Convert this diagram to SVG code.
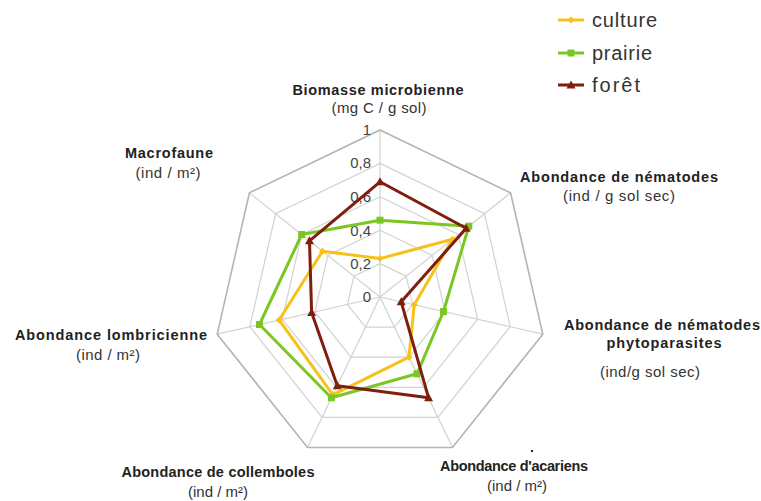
<svg xmlns="http://www.w3.org/2000/svg" width="761" height="501" viewBox="0 0 761 501">
<style>
.grid{fill:none;stroke:#d2d2d2;stroke-width:1.2}
.outer{fill:none;stroke:#b4b4b4;stroke-width:1.6}
.spoke{stroke:#d2d2d2;stroke-width:1.2}
.tick{font-family:"Liberation Sans",Arial,sans-serif;font-size:15px;fill:#444;text-anchor:end}
.lab{font-family:"Liberation Sans",Arial,sans-serif;font-size:14.5px;font-weight:bold;fill:#222;text-anchor:middle}
.unit{font-family:"Liberation Sans",Arial,sans-serif;font-size:15px;fill:#333;text-anchor:middle}
.leg{font-family:"Liberation Sans",Arial,sans-serif;font-size:20px;fill:#333}
.cul{fill:none;stroke:#F6C21A;stroke-width:3;stroke-linejoin:round}
.pra{fill:none;stroke:#7CC623;stroke-width:3;stroke-linejoin:round}
.for{fill:none;stroke:#7E1E0C;stroke-width:3;stroke-linejoin:round}
</style>
<defs>
<path id="mc" d="M0,-3.5 L3.5,0 L0,3.5 L-3.5,0 Z" fill="#F6C21A"/>
<rect id="mp" x="-3.5" y="-3.5" width="7" height="7" fill="#7CC623"/>
<path id="mf" d="M0,-4.5 L4.5,3.5 L-4.5,3.5 Z" fill="#7E1E0C"/>
</defs>
<rect width="761" height="501" fill="#fff"/>
<g id="grid">
<line class="spoke" x1="380" y1="297" x2="380" y2="130"/>
<line class="spoke" x1="380" y1="297" x2="510.6" y2="192.9"/>
<line class="spoke" x1="380" y1="297" x2="542.8" y2="334.2"/>
<line class="spoke" x1="380" y1="297" x2="452.5" y2="447.5"/>
<line class="spoke" x1="380" y1="297" x2="307.5" y2="447.5"/>
<line class="spoke" x1="380" y1="297" x2="217.2" y2="334.2"/>
<line class="spoke" x1="380" y1="297" x2="249.4" y2="192.9"/>
<polygon class="grid" points="380,263.6 406.1,276.2 412.6,304.4 394.5,327.1 365.5,327.1 347.4,304.4 353.9,276.2"/>
<polygon class="grid" points="380,230.2 432.2,255.4 445.1,311.9 409,357.2 351,357.2 314.9,311.9 327.8,255.4"/>
<polygon class="grid" points="380,196.8 458.3,234.5 477.7,319.3 423.5,387.3 336.5,387.3 282.3,319.3 301.7,234.5"/>
<polygon class="grid" points="380,163.4 484.5,213.7 510.2,326.7 438,417.4 322,417.4 249.8,326.7 275.6,213.7"/>
<polygon class="outer" points="380,130 510.6,192.9 542.8,334.2 452.5,447.5 307.5,447.5 217.2,334.2 249.4,192.9"/>
</g>
<g id="ticks">
<text class="tick" x="371" y="302">0</text>
<text class="tick" x="371" y="269">0,2</text>
<text class="tick" x="371" y="236">0,4</text>
<text class="tick" x="371" y="202">0,6</text>
<text class="tick" x="371" y="168">0,8</text>
<text class="tick" x="371" y="135">1</text>
</g>
<g id="series">
<g id="culture">
<polygon class="cul" points="380,258.6 452.5,239.2 414.2,304.8 409,357.2 332.9,394.8 279.1,320 322.5,251.2"/>
<use href="#mc" x="380" y="258.6"/><use href="#mc" x="452.5" y="239.2"/><use href="#mc" x="414.2" y="304.8"/><use href="#mc" x="409" y="357.2"/><use href="#mc" x="332.9" y="394.8"/><use href="#mc" x="279.1" y="320"/><use href="#mc" x="322.5" y="251.2"/>
</g>
<g id="prairie">
<polygon class="pra" points="380,220.2 468.8,226.2 443.5,311.5 417,373.8 331.4,397.8 259.5,324.5 301.7,234.5"/>
<use href="#mp" x="380" y="220.2"/><use href="#mp" x="468.8" y="226.2"/><use href="#mp" x="443.5" y="311.5"/><use href="#mp" x="417" y="373.8"/><use href="#mp" x="331.4" y="397.8"/><use href="#mp" x="259.5" y="324.5"/><use href="#mp" x="301.7" y="234.5"/>
</g>
<g id="foret">
<polygon class="for" points="380,181.8 466.2,228.3 401.2,301.8 428.6,397.8 337.3,385.8 311.6,312.6 309.5,240.8"/>
<use href="#mf" x="380" y="181.8"/><use href="#mf" x="466.2" y="228.3"/><use href="#mf" x="401.2" y="301.8"/><use href="#mf" x="428.6" y="397.8"/><use href="#mf" x="337.3" y="385.8"/><use href="#mf" x="311.6" y="312.6"/><use href="#mf" x="309.5" y="240.8"/>
</g>
</g>
<g id="axis-biomasse">
<text class="lab" x="378" y="95" textLength="171">Biomasse microbienne</text>
<text class="unit" x="379" y="113" textLength="95">(mg C / g sol)</text>
</g>
<g id="axis-nematodes">
<text class="lab" x="619" y="182" textLength="198">Abondance de nématodes</text>
<text class="unit" x="619" y="201" textLength="112">(ind / g sol sec)</text>
</g>
<g id="axis-phyto">
<text class="lab" x="662" y="330" textLength="196">Abondance de nématodes</text>
<text class="lab" x="664" y="348" textLength="115">phytoparasites</text>
<text class="unit" x="650" y="377" textLength="100">(ind/g sol sec)</text>
</g>
<g id="axis-acariens">
<circle cx="532" cy="451" r="1.2" fill="#333"/>
<text class="lab" x="514" y="471" textLength="148">Abondance d'acariens</text>
<text class="unit" x="517" y="491" textLength="60">(ind / m²)</text>
</g>
<g id="axis-collemboles">
<text class="lab" x="218" y="477" textLength="193">Abondance de collemboles</text>
<text class="unit" x="218" y="497" textLength="60">(ind / m²)</text>
</g>
<g id="axis-lombric">
<text class="lab" x="111" y="340" textLength="192">Abondance lombricienne</text>
<text class="unit" x="108" y="360" textLength="64">(ind / m²)</text>
</g>
<g id="axis-macrofaune">
<text class="lab" x="169" y="158" textLength="88">Macrofaune</text>
<text class="unit" x="168" y="178" textLength="65">(ind / m²)</text>
</g>
<g id="legend">
<line x1="558" y1="20" x2="584" y2="20" stroke="#F6C21A" stroke-width="3"/><use href="#mc" x="571" y="20"/>
<text class="leg" x="592" y="27" textLength="65">culture</text>
<line x1="558" y1="53" x2="584" y2="53" stroke="#7CC623" stroke-width="3"/><use href="#mp" x="571" y="53"/>
<text class="leg" x="592" y="60" textLength="60">prairie</text>
<line x1="558" y1="85" x2="584" y2="85" stroke="#7E1E0C" stroke-width="3"/><use href="#mf" x="571" y="85"/>
<text class="leg" x="592" y="92" textLength="48">forêt</text>
</g>
</svg>
